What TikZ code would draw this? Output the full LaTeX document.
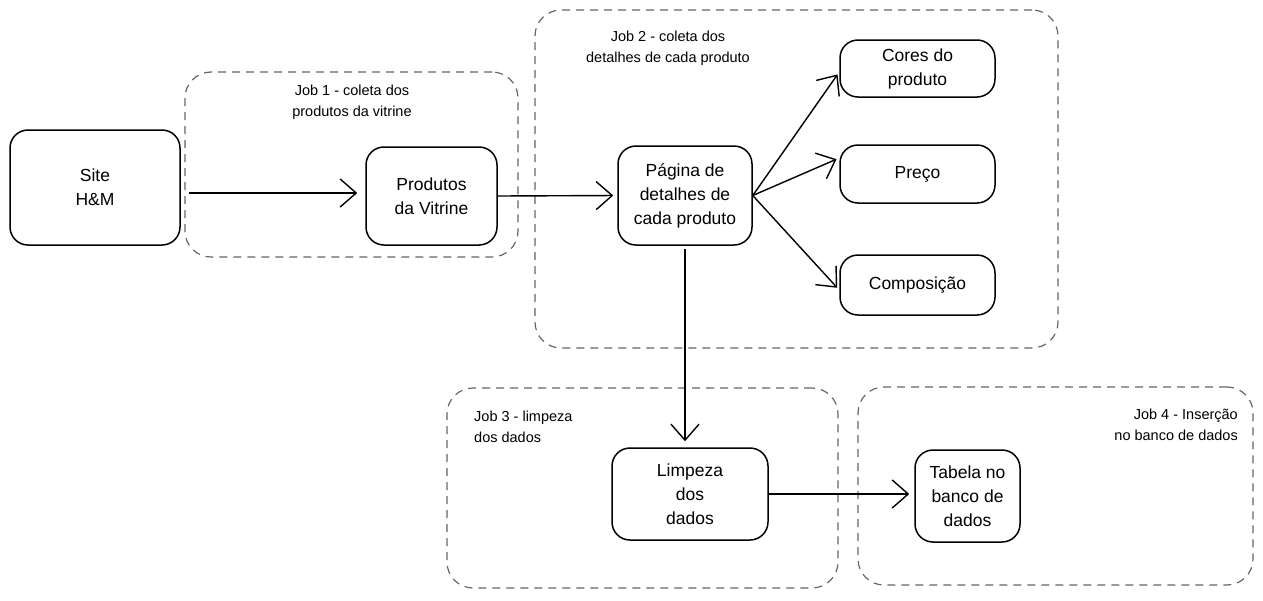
\documentclass[tikz,border=0pt]{standalone}
\usepackage{fontspec}
\setmainfont{Liberation Sans}
\usetikzlibrary{arrows.meta}
\tikzset{
  box/.style={draw=black, line width=1.5pt, rounded corners=18pt, align=center,
    font=\fontsize{17.5}{24}\selectfont, inner sep=0pt},
  job/.style={draw=black!60, line width=1.2pt, dash pattern=on 8pt off 6pt,
    rounded corners=26pt, inner sep=0pt},
  lbl/.style={font=\fontsize{14.5}{20.5}\selectfont, inner sep=0pt},
  arr/.style={line width=1.4pt, -{Straight Barb[length=16pt,width=28pt,line width=1.4pt]}},
}
\begin{document}
\begin{tikzpicture}[x=1pt,y=-1pt]
\useasboundingbox (0,0) rectangle (1263,600);
% containers
\node[job, minimum width=333pt, minimum height=185pt] (job1) at (351.5,164.5) {};
\node[job, minimum width=523pt, minimum height=338pt] (job2) at (796.5,179) {};
\node[job, minimum width=391pt, minimum height=200pt] (job3) at (642.5,488) {};
\node[job, minimum width=395pt, minimum height=198pt] (job4) at (1055.5,486) {};
% container labels
\node[lbl, align=center] (l1) at (352,102) {Job 1 - coleta dos\\produtos da vitrine};
\node[lbl, align=center] (l2) at (668,48) {Job 2 - coleta dos\\detalhes de cada produto};
\node[lbl, align=left, anchor=west] (l3) at (474,427) {Job 3 - limpeza\\dos dados};
\node[lbl, align=right, anchor=east] (l4) at (1238,425) {Job 4 - Inserção\\no banco de dados};
% boxes
\node[box, minimum width=170pt, minimum height=115pt] (site) at (95,187.5) {Site\\H\&M};
\node[box, minimum width=131pt, minimum height=98pt] (prod) at (431.5,196) {Produtos\\da Vitrine};
\node[box, minimum width=134pt, minimum height=99pt] (pag) at (685,195.5) {Página de\\detalhes de\\cada produto};
\node[box, minimum width=155pt, minimum height=57pt] (cores) at (917.5,68.5) {Cores do\\produto};
\node[box, minimum width=155pt, minimum height=58pt] (preco) at (917.5,174) {Preço};
\node[box, minimum width=155pt, minimum height=60pt] (comp) at (917.5,285) {Composição};
\node[box, minimum width=156pt, minimum height=92pt] (limp) at (690,494) {Limpeza\\dos\\dados};
\node[box, minimum width=105pt, minimum height=92pt] (tab) at (967.5,496) {Tabela no\\banco de\\dados};
% connectors
\draw[arr, shorten <=8pt, shorten >=8pt] ([yshift=-5.5pt]site.east) -- ([yshift=3pt]prod.west);
\draw[arr, shorten >=4pt] (prod.east) -- (pag.west);
\draw[arr, shorten >=3pt] (pag.east) -- ([yshift=-3.5pt]cores.west);
\draw[arr, shorten >=3pt] (pag.east) -- ([yshift=16pt]preco.west);
\draw[arr, shorten >=3pt] (pag.east) -- ([yshift=-5pt]comp.west);
\draw[arr, shorten <=3pt, shorten >=6pt] (pag.south) -- (pag.south |- limp.north);
\draw[arr, shorten >=5pt] (limp.east) -- (tab.west |- limp.east);
\end{tikzpicture}
\end{document}
